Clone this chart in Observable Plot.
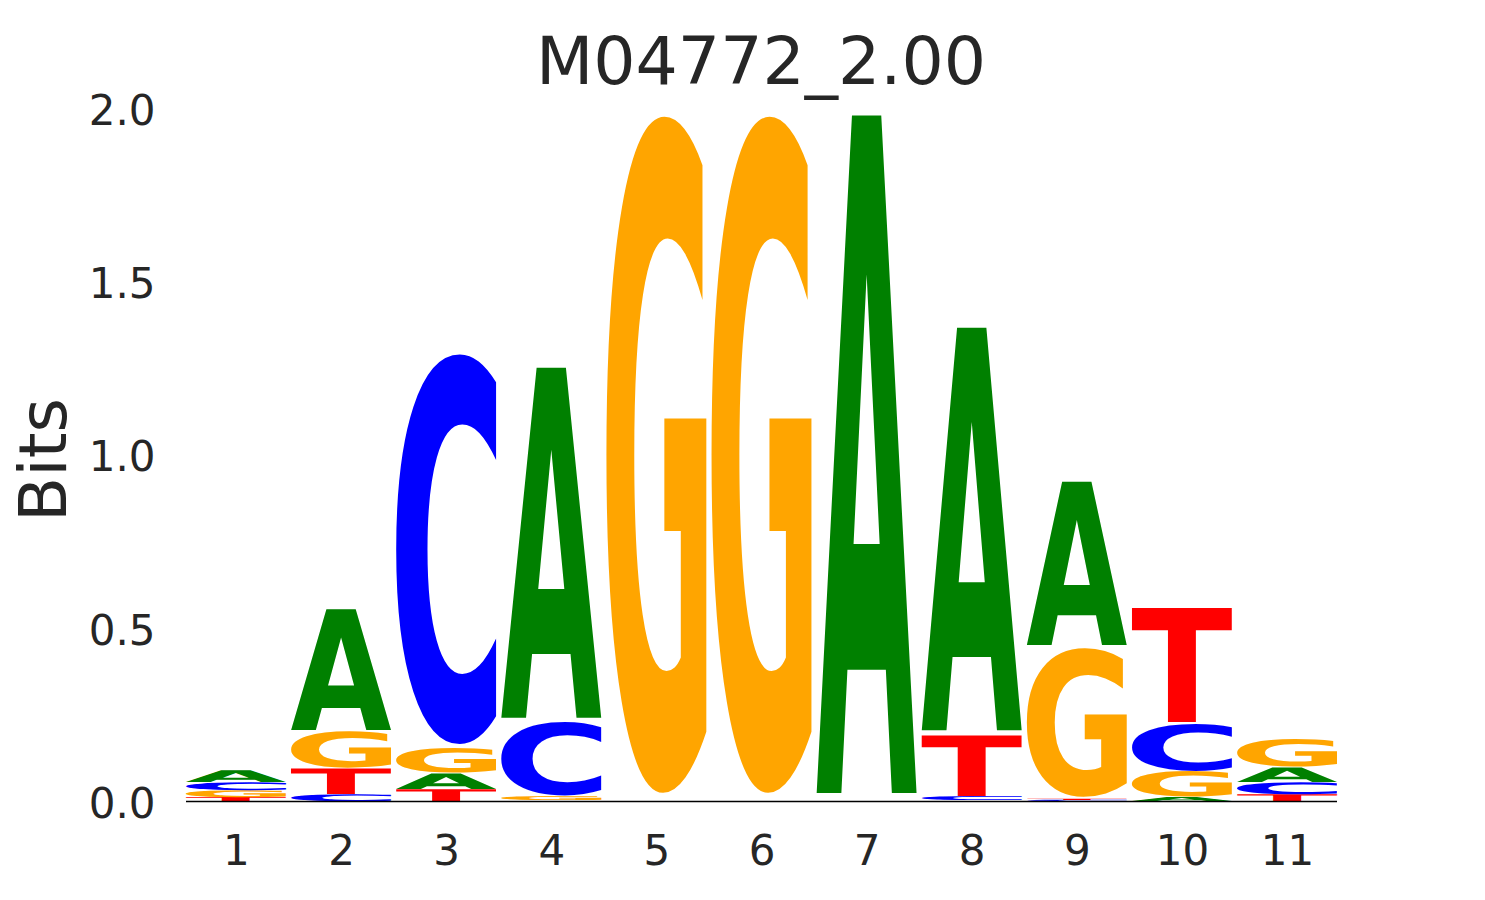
<!DOCTYPE html>
<html>
<head>
<meta charset="utf-8">
<script src="https://cdn.jsdelivr.net/npm/d3@7"></script>
<script src="https://cdn.jsdelivr.net/npm/@observablehq/plot@0.6"></script>
<style>
  html, body { margin: 0; padding: 0; background: #ffffff; }
  #wrap { width: 1485px; height: 900px; position: relative; font-family: "DejaVu Sans", sans-serif; }
  #title { position: absolute; left: 0; top: 0; width: 1485px; height: 100px; z-index: 2; pointer-events: none; }
  #title span { position: absolute; left: 761px; top: 28px; transform: translateX(-50%);
    font-size: 66.5px; line-height: 66px; color: #262626; white-space: nowrap; }
  #chart { position: absolute; left: 0; top: 0; }
  #chart svg { display: block; }
</style>
</head>
<body>
<div id="wrap">
  <div id="chart"></div>
  <div id="title"><span></span></div>
</div>
<script>
// ---- data (information content in bits per letter, per position) ----
const positions = [1, 2, 3, 4, 5, 6, 7, 8, 9, 10, 11];
const letters = ["A", "C", "G", "T"];
const bitsA = [0.035, 0.356, 0.046, 1.031, 0.001, 0.001, 1.995, 1.186, 0.481, 0.012, 0.043];
const bitsC = [0.023, 0.020, 1.147, 0.216, 0.001, 0.001, 0.001, 0.012, 0.004, 0.138, 0.035];
const bitsG = [0.020, 0.107, 0.072, 0.012, 1.990, 1.990, 0.001, 0.002, 0.437, 0.075, 0.081];
const bitsT = [0.012, 0.075, 0.035, 0.002, 0.002, 0.002, 0.001, 0.178, 0.004, 0.336, 0.020];
const yTicks = [0, 0.5, 1.0, 1.5, 2.0];
const titleText = "M04772_2.00";
const yLabel = "Bits";

const letterColors = { A: "#008000", C: "#0000ff", G: "#ffa500", T: "#ff0000" };
const series = { A: bitsA, C: bitsC, G: bitsG, T: bitsT };

// stack letters per position: smallest at the bottom
const rows = [];
positions.forEach((p, i) => {
  const col = letters.map(L => ({ pos: p, letter: L, bits: series[L][i] }));
  col.sort((a, b) => a.bits - b.bits);
  let acc = 0;
  for (const r of col) { r.y1 = acc; acc += r.bits; r.y2 = acc; rows.push(r); }
});
const drawn = rows.filter(d => d.bits >= 0.003);
const W = 0.95;

const chart = Plot.plot({
  width: 1485,
  height: 900,
  marginTop: 108,
  marginBottom: 99,
  marginLeft: 186,
  marginRight: 148,
  x: { domain: [0.525, 11.475] },
  y: { domain: [0, 2] },
  style: { fontFamily: "DejaVu Sans", color: "#262626", background: "white" },
  marks: [
    Plot.rect(drawn, {
      x1: d => d.pos - W / 2, x2: d => d.pos + W / 2,
      y1: "y1", y2: "y2", fill: "none", stroke: "none"
    }),
    Plot.ruleY([0], { stroke: "#000000", strokeWidth: 1.5 }),
    Plot.axisY({ ticks: yTicks, tickFormat: d3.format(".1f"), tickSize: 0, tickPadding: 31, dy: 3, fontSize: 42, label: null }),
    Plot.axisX({ ticks: positions, tickFormat: d => String(d), tickSize: 0, tickPadding: 34, fontSize: 42, label: null }),
    Plot.text([yLabel], { frameAnchor: "left", textAnchor: "middle", dx: -142, dy: 5, rotate: -90, text: d => d, fontSize: 66, fill: "#262626" })
  ]
});

document.getElementById("chart").appendChild(chart);
document.querySelector("#title span").textContent = titleText;

// measure each letter's ink box by rasterizing it (em units)
const FS = 1000, CW = 1400, CH = 1400, OX = 200, OY = 1150;
const canvas = document.createElement("canvas");
canvas.width = CW; canvas.height = CH;
const ctx = canvas.getContext("2d", { willReadFrequently: true });
const metrics = {};
for (const L of letters) {
  ctx.clearRect(0, 0, CW, CH);
  ctx.font = `bold ${FS}px "DejaVu Sans"`;
  ctx.textBaseline = "alphabetic";
  ctx.textAlign = "left";
  ctx.fillStyle = "#000";
  ctx.fillText(L, OX, OY);
  const data = ctx.getImageData(0, 0, CW, CH).data;
  let minX = CW, maxX = -1, minY = CH, maxY = -1;
  for (let yy = 0; yy < CH; yy++) {
    const row = yy * CW * 4;
    for (let xx = 0; xx < CW; xx++) {
      if (data[row + xx * 4 + 3] >= 128) {
        if (xx < minX) minX = xx;
        if (xx > maxX) maxX = xx;
        if (yy < minY) minY = yy;
        if (yy > maxY) maxY = yy;
      }
    }
  }
  metrics[L] = {
    left: (minX - OX) / FS,
    right: (maxX + 1 - OX) / FS,
    top: (minY - OY) / FS,
    bottom: (maxY + 1 - OY) / FS
  };
}

// turn each stacked rect (positioned by Plot's scales) into a stretched letter glyph
const svgNS = "http://www.w3.org/2000/svg";
const rectGroup = chart.querySelector('g[aria-label="rect"]');
const rectEls = Array.from(rectGroup.querySelectorAll("rect"));
rectEls.forEach((r, i) => {
  const d = drawn[i];
  const x = +r.getAttribute("x"), y = +r.getAttribute("y");
  const w = +r.getAttribute("width"), h = +r.getAttribute("height");
  const pad = 0.01 * h;
  const inkH = h - 2 * pad;
  const m = metrics[d.letter];
  const emH = m.bottom - m.top, emW = m.right - m.left;
  const fs = Math.max(inkH / emH, 40);
  const sx = w / (emW * fs);
  const sy = inkH / (emH * fs);
  const t = document.createElementNS(svgNS, "text");
  t.setAttribute("x", 0);
  t.setAttribute("y", 0);
  t.setAttribute("text-anchor", "start");
  t.setAttribute("text-rendering", "geometricPrecision");
  t.setAttribute("font-family", "DejaVu Sans");
  t.setAttribute("font-weight", "bold");
  t.setAttribute("font-size", fs);
  t.setAttribute("fill", letterColors[d.letter]);
  t.setAttribute("transform", `translate(${x - m.left * fs * sx},${y + pad - m.top * fs * sy}) scale(${sx},${sy})`);
  t.textContent = d.letter;
  rectGroup.appendChild(t);
  r.remove();
});
</script>
</body>
</html>
